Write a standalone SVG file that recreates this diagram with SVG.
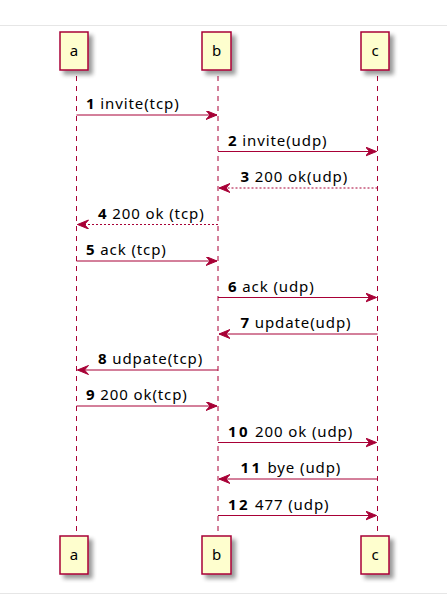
<svg xmlns="http://www.w3.org/2000/svg" width="447" height="615" viewBox="0 0 447 615">
<style>
.bg{fill:#ffffff}
.rule{stroke:#e6e6e6;stroke-width:1}
.box{fill:#FEFECE;stroke:#A80036;stroke-width:1.5}
.life{stroke:#A80036;stroke-width:1;stroke-dasharray:5,5}
.msg{stroke:#A80036;stroke-width:1;fill:none}
.ret{stroke:#A80036;stroke-width:1;fill:none;stroke-dasharray:2,2}
.head{fill:#A80036;stroke:#A80036;stroke-width:1}
.pt{font-family:"Noto Sans","Open Sans","DejaVu Sans",sans-serif;font-size:15px;fill:#000;text-anchor:middle}
.lbl{font-family:"Noto Sans","Open Sans","DejaVu Sans",sans-serif;font-size:15px;letter-spacing:0.9px;fill:#000}
.num{font-weight:bold}
</style>
<defs>
<filter id="sh" x="-30%" y="-30%" width="170%" height="170%">
<feGaussianBlur in="SourceAlpha" stdDeviation="2"/>
<feOffset dx="4" dy="4" result="o"/>
<feComponentTransfer><feFuncA type="linear" slope="0.4"/></feComponentTransfer>
<feMerge><feMergeNode/><feMergeNode in="SourceGraphic"/></feMerge>
</filter>
<marker id="ah" markerWidth="14" markerHeight="12" refX="11" refY="4.5" orient="auto" markerUnits="userSpaceOnUse">
<polygon points="0,0 11,4.5 0,9 4,4.5" class="head"/>
</marker>
</defs>
<rect class="bg" x="0" y="0" width="447" height="615"/>
<line class="rule" x1="0" y1="25.5" x2="447" y2="25.5"/>
<line class="rule" x1="0" y1="593.5" x2="447" y2="593.5"/>

<g id="lifelines">
<line class="life" x1="76.5" y1="76" x2="76.5" y2="536"/>
<line class="life" x1="218" y1="76" x2="218" y2="536"/>
<line class="life" x1="377.5" y1="76" x2="377.5" y2="536"/>
</g>

<g id="a_top"><rect class="box" x="60" y="32" width="28" height="38" filter="url(#sh)"/><text class="pt" x="74" y="56">a</text></g>
<g id="b_top"><rect class="box" x="202" y="32" width="29" height="38" filter="url(#sh)"/><text class="pt" x="216.5" y="56">b</text></g>
<g id="c_top"><rect class="box" x="361" y="32" width="28" height="38" filter="url(#sh)"/><text class="pt" x="375" y="56">c</text></g>
<g id="a_bottom"><rect class="box" x="60" y="536" width="28" height="38" filter="url(#sh)"/><text class="pt" x="74" y="560">a</text></g>
<g id="b_bottom"><rect class="box" x="202" y="536" width="29" height="38" filter="url(#sh)"/><text class="pt" x="216.5" y="560">b</text></g>
<g id="c_bottom"><rect class="box" x="361" y="536" width="28" height="38" filter="url(#sh)"/><text class="pt" x="375" y="560">c</text></g>

<g id="connectors">
<line class="msg" x1="76.5" y1="115" x2="217" y2="115" marker-end="url(#ah)"/>
<line class="msg" x1="218" y1="151.5" x2="376.5" y2="151.5" marker-end="url(#ah)"/>
<line class="ret" x1="377.5" y1="188" x2="219" y2="188" marker-end="url(#ah)"/>
<line class="ret" x1="218" y1="224.5" x2="77.5" y2="224.5" marker-end="url(#ah)"/>
<line class="msg" x1="76.5" y1="261" x2="217" y2="261" marker-end="url(#ah)"/>
<line class="msg" x1="218" y1="297.5" x2="376.5" y2="297.5" marker-end="url(#ah)"/>
<line class="msg" x1="377.5" y1="334" x2="219" y2="334" marker-end="url(#ah)"/>
<line class="msg" x1="218" y1="370" x2="77.5" y2="370" marker-end="url(#ah)"/>
<line class="msg" x1="76.5" y1="406" x2="217" y2="406" marker-end="url(#ah)"/>
<line class="msg" x1="218" y1="442.5" x2="376.5" y2="442.5" marker-end="url(#ah)"/>
<line class="msg" x1="377.5" y1="479" x2="219" y2="479" marker-end="url(#ah)"/>
<line class="msg" x1="218" y1="515.5" x2="376.5" y2="515.5" marker-end="url(#ah)"/>
</g>

<g id="labels">
<text class="lbl" x="86" y="109"><tspan class="num">1</tspan> invite(tcp)</text>
<text class="lbl" x="228" y="145.5"><tspan class="num">2</tspan> invite(udp)</text>
<text class="lbl" x="240.5" y="182"><tspan class="num">3</tspan> 200 ok(udp)</text>
<text class="lbl" x="98" y="218.5"><tspan class="num">4</tspan> 200 ok (tcp)</text>
<text class="lbl" x="86" y="255"><tspan class="num">5</tspan> ack (tcp)</text>
<text class="lbl" x="228" y="291.5"><tspan class="num">6</tspan> ack (udp)</text>
<text class="lbl" x="240.5" y="328"><tspan class="num">7</tspan> update(udp)</text>
<text class="lbl" x="98" y="364"><tspan class="num">8</tspan> udpate(tcp)</text>
<text class="lbl" x="86" y="400"><tspan class="num">9</tspan> 200 ok(tcp)</text>
<text class="lbl" x="228" y="436.5"><tspan class="num" letter-spacing="2.5">10</tspan> 200 ok (udp)</text>
<text class="lbl" x="240.5" y="473"><tspan class="num" letter-spacing="2.5">11</tspan> bye (udp)</text>
<text class="lbl" x="228" y="509.5"><tspan class="num" letter-spacing="2.5">12</tspan> 477 (udp)</text>
</g>
</svg>
